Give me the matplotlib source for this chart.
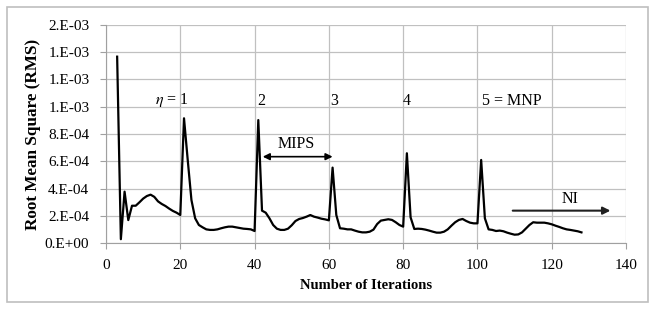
import matplotlib.pyplot as plt
from matplotlib.patches import Rectangle
import numpy as np

# iteration number and RMS
iterations = list(range(3, 129))
rms = [
    1.366e-3, 0.30e-4, 3.78e-4, 1.70e-4, 2.75e-4, 2.75e-4, 3.00e-4, 3.27e-4,
    3.46e-4, 3.56e-4, 3.40e-4, 3.07e-4, 2.88e-4, 2.73e-4, 2.54e-4, 2.37e-4,
    2.24e-4, 2.07e-4,
    9.15e-4, 6.10e-4, 3.17e-4, 1.83e-4, 1.34e-4, 1.17e-4, 1.02e-4, 0.98e-4,
    0.98e-4, 1.02e-4, 1.10e-4, 1.17e-4, 1.22e-4, 1.22e-4, 1.17e-4, 1.12e-4,
    1.07e-4, 1.05e-4, 1.02e-4, 0.90e-4,
    9.02e-4, 2.39e-4, 2.24e-4, 1.83e-4, 1.34e-4, 1.07e-4, 0.98e-4, 0.98e-4,
    1.07e-4, 1.32e-4, 1.63e-4, 1.78e-4, 1.85e-4, 1.95e-4, 2.07e-4, 1.95e-4,
    1.88e-4, 1.80e-4, 1.75e-4, 1.68e-4,
    5.54e-4, 2.07e-4, 1.10e-4, 1.07e-4, 1.02e-4, 1.02e-4, 0.93e-4, 0.85e-4,
    0.80e-4, 0.80e-4, 0.85e-4, 1.00e-4, 1.41e-4, 1.66e-4, 1.71e-4, 1.76e-4,
    1.71e-4, 1.54e-4, 1.34e-4, 1.22e-4,
    6.59e-4, 1.90e-4, 1.05e-4, 1.07e-4, 1.05e-4, 1.00e-4, 0.93e-4, 0.85e-4,
    0.78e-4, 0.78e-4, 0.85e-4, 1.02e-4, 1.29e-4, 1.54e-4, 1.71e-4, 1.78e-4,
    1.63e-4, 1.51e-4, 1.46e-4, 1.46e-4,
    6.10e-4, 1.83e-4, 1.02e-4, 0.98e-4, 0.90e-4, 0.93e-4, 0.88e-4, 0.78e-4,
    0.70e-4, 0.63e-4, 0.65e-4, 0.80e-4, 1.07e-4, 1.34e-4, 1.54e-4, 1.51e-4,
    1.51e-4, 1.51e-4, 1.46e-4, 1.39e-4, 1.29e-4, 1.20e-4, 1.10e-4, 1.02e-4,
    0.98e-4, 0.93e-4, 0.88e-4, 0.80e-4,
]

x_ticks = [0, 20, 40, 60, 80, 100, 120, 140]
y_ticks = [0, 2e-4, 4e-4, 6e-4, 8e-4, 1.0e-3, 1.2e-3, 1.4e-3, 1.6e-3]
y_tick_labels = ["0.E+00", "2.E-04", "4.E-04", "6.E-04", "8.E-04",
                 "1.E-03", "1.E-03", "1.E-03", "2.E-03"]

eta_labels = [r"$\eta$ = 1", "2", "3", "4", "5 = MNP"]
eta_x = [13.2, 40.8, 60.4, 79.8, 101.2]

plt.rcParams["font.family"] = ["Liberation Serif", "DejaVu Serif"]
plt.rcParams["mathtext.fontset"] = "stix"

fig = plt.figure(figsize=(6.65, 3.19), dpi=100)
fig.patches.append(Rectangle((7 / 665, 1 - 302 / 319), 641 / 665, 295 / 319,
                             transform=fig.transFigure, fill=False,
                             edgecolor="#bfbfbf", linewidth=1.2))
ax = fig.add_axes([0.1594, 0.2373, 0.782, 0.6853])

ax.plot(iterations, rms, color="black", linewidth=1.6)

ax.set_xlim(0, 140)
ax.set_ylim(0, 1.6e-3)
ax.set_xticks(x_ticks)
ax.set_yticks(y_ticks)
ax.set_yticklabels(y_tick_labels)
ax.tick_params(labelsize=11, length=4, width=0.8, color="#a0a0a0")
ax.tick_params(axis="y", pad=8)
ax.tick_params(axis="x", pad=7)
ax.grid(True, color="#c0c0c0", linewidth=0.9)
ax.set_axisbelow(True)
for side in ["top", "right"]:
    ax.spines[side].set_visible(False)
for side in ["left", "bottom"]:
    ax.spines[side].set_color("#a0a0a0")

ax.set_xlabel("Number of Iterations", fontsize=10.5, fontweight="bold",
              labelpad=5)
ax.set_ylabel("Root Mean Square (RMS)", fontsize=12.3, fontweight="bold",
              labelpad=3)

for lbl, xp in zip(eta_labels, eta_x):
    ax.text(xp, 0.98e-3, lbl, fontsize=11.5, ha="left", va="bottom")

# MIPS double arrow
ax.annotate("", xy=(42.2, 6.34e-4), xytext=(61.0, 6.34e-4),
            arrowprops=dict(arrowstyle="<|-|>", color="black", lw=1.2,
                            mutation_scale=10, shrinkA=0, shrinkB=0))
ax.text(51.3, 6.65e-4, "MIPS", fontsize=11.5, ha="center", va="bottom")

# NI arrow
ax.annotate("", xy=(135.8, 2.39e-4), xytext=(109.5, 2.39e-4),
            arrowprops=dict(arrowstyle="-|>", color="#202020", lw=1.5,
                            mutation_scale=11, shrinkA=0, shrinkB=0))
ax.text(125, 2.65e-4, "NI", fontsize=11.5, ha="center", va="bottom")

fig.savefig("out.png", dpi=100)
